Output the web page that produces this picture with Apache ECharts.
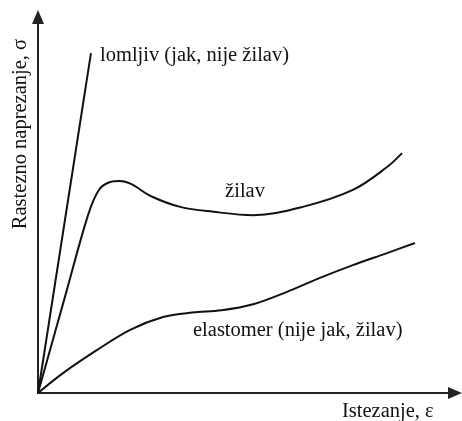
<!DOCTYPE html>
<html>
<head>
<meta charset="utf-8">
<script src="https://cdn.jsdelivr.net/npm/echarts@6/dist/echarts.min.js"></script>
<style>
  html, body { margin: 0; padding: 0; background: #fff; }
  #chart { width: 462px; height: 421px; }
</style>
</head>
<body>
<div id="chart"></div>
<script>
// strain (x) / stress (y), arbitrary units 0..100
var lomljivX = [0, 12.7];
var lomljivY = [0, 90.4];

var zilavX = [0, 6.6, 12.0, 14.6, 17.3, 19.7, 22.3, 27.0, 34.1, 42.0, 51.6, 63.5, 75.5, 83.7, 87.3];
var zilavY = [0, 26.1, 47.3, 54.0, 56.1, 56.4, 55.6, 52.4, 49.5, 48.2, 47.3, 49.5, 54.0, 60.1, 63.8];

var elastX = [0, 6.0, 14.1, 22.1, 30.0, 37.0, 44.0, 51.6, 59.7, 67.6, 75.5, 83.7, 90.4];
var elastY = [0, 5.3, 11.4, 16.8, 20.2, 21.4, 22.0, 23.6, 26.9, 30.6, 34.0, 37.2, 39.9];

var labelLomljiv = 'lomljiv (jak, nije žilav)';
var labelZilav = 'žilav';
var labelElast = 'elastomer (nije jak, žilav)';
var xName = 'Istezanje, ε';
var yName = 'Rastezno naprezanje, σ';

function pairs(xs, ys) {
    return xs.map(function (x, i) { return [x, ys[i]]; });
}

var chart = echarts.init(document.getElementById('chart'));
var font = '"Liberation Serif", "Times New Roman", serif';
var lineStyle = { color: '#111', width: 2 };

chart.setOption({
    backgroundColor: '#fff',
    animation: false,
    grid: { left: 38, top: 17, right: 7, bottom: 28 },
    xAxis: {
        type: 'value', min: 0, max: 100,
        axisLine: { lineStyle: { color: '#222', width: 2 }, symbol: ['none', 'triangle'], symbolSize: [12, 14] },
        axisTick: { show: false }, axisLabel: { show: false }, splitLine: { show: false }
    },
    yAxis: {
        type: 'value', min: 0, max: 100,
        axisLine: { show: true, lineStyle: { color: '#222', width: 2 }, symbol: ['none', 'triangle'], symbolSize: [12, 14] },
        axisTick: { show: false }, axisLabel: { show: false }, splitLine: { show: false }
    },
    series: [
        { type: 'line', data: pairs(lomljivX, lomljivY), showSymbol: false, lineStyle: lineStyle },
        { type: 'line', data: pairs(zilavX, zilavY), smooth: 0.35, showSymbol: false, lineStyle: lineStyle },
        { type: 'line', data: pairs(elastX, elastY), smooth: 0.35, showSymbol: false, lineStyle: lineStyle }
    ],
    graphic: [
        { type: 'text', x: 100, y: 56, style: { text: labelLomljiv, font: '20.5px ' + font, fill: '#111', align: 'left', verticalAlign: 'middle' } },
        { type: 'text', x: 245, y: 192, style: { text: labelZilav, font: '20.5px ' + font, fill: '#111', align: 'center', verticalAlign: 'middle' } },
        { type: 'text', x: 193, y: 331, style: { text: labelElast, font: '20.5px ' + font, fill: '#111', align: 'left', verticalAlign: 'middle' } },
        { type: 'text', x: 342, y: 412, style: { text: xName, font: '20.5px ' + font, fill: '#111', align: 'left', verticalAlign: 'middle' } },
        { type: 'text', x: 21, y: 134, rotation: Math.PI / 2, style: { text: yName, font: '20.5px ' + font, fill: '#111', align: 'center', verticalAlign: 'middle' } }
    ]
});
</script>
</body>
</html>
